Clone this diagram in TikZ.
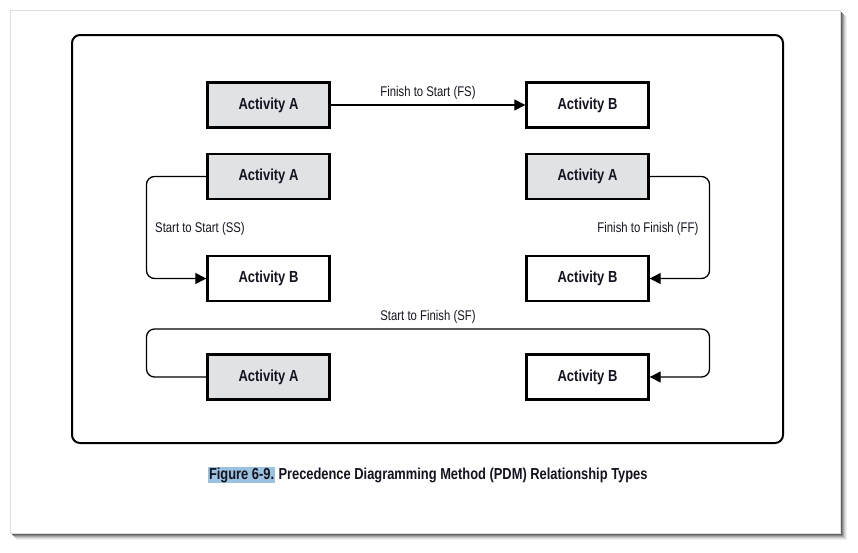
\documentclass[tikz,border=0pt]{standalone}
\usepackage{fontspec}
\setmainfont{Liberation Sans}[FakeStretch=0.81]
\usetikzlibrary{arrows.meta}
\definecolor{boxgray}{HTML}{E1E2E4}
\definecolor{hl}{HTML}{9CC2DF}
\definecolor{txt}{HTML}{141420}
\tikzset{
  act/.style={draw=black, line width=2.4pt, minimum width=122pt, minimum height=45pt,
    inner sep=0pt, font=\fontsize{16}{18}\selectfont\bfseries, text=txt},
  actA/.style={act, fill=boxgray},
  actB/.style={act, fill=white},
  conn/.style={draw=black, line width=1.3pt, rounded corners=8pt},
  tip/.style={-{Triangle[length=11pt,width=11pt]}},
  lbl/.style={font=\fontsize{14}{16}\selectfont, text=txt, inner sep=0pt}
}
\begin{document}
\begin{tikzpicture}[x=1pt,y=-1pt]
\useasboundingbox (0,0) rectangle (858,552);
\fill[white] (0,0) rectangle (858,552);
% page shadow
\foreach \i/\c in {7/6,6/12,5/22,4/34,3/48,2/62,1/72}{
  \fill[black!\c] (10+\i,10+\i) rectangle (840+\i,533+\i);
}
\draw[black!12, line width=0.8pt, fill=white] (10,10) rectangle (840,533);
% frame
\draw[line width=2pt, rounded corners=8pt] (72,35) rectangle (783,443);
% nodes
\node[actA] (a1) at (268.5,105) {Activity A};
\node[actB] (b1) at (587.5,105) {Activity B};
\node[actA] (a2) at (268.5,176.5) {Activity A};
\node[actB] (b2) at (268.5,278.5) {Activity B};
\node[actA] (a3) at (587.5,176.5) {Activity A};
\node[actB] (b3) at (587.5,278.5) {Activity B};
\node[actA] (a4) at (268.5,377) {Activity A};
\node[actB] (b4) at (587.5,377) {Activity B};
% FS
\draw[conn, tip] (a1.east) -- (b1.west);
\node[lbl] (lfs) at (428,93) {Finish to Start (FS)};
% SS
\coordinate (ss1) at (146.5,176.5);
\coordinate (ss2) at (146.5,278.5);
\draw[conn, tip] (a2.west) -- (ss1) -- (ss2) -- (b2.west);
\node[lbl, anchor=west] (lss) at (155,228.5) {Start to Start (SS)};
% FF
\coordinate (ff1) at (709.5,176.5);
\coordinate (ff2) at (709.5,278.5);
\draw[conn, tip] (a3.east) -- (ff1) -- (ff2) -- (b3.east);
\node[lbl, anchor=east] (lff) at (698.5,228.5) {Finish to Finish (FF)};
% SF
\coordinate (sf1) at (146.5,377);
\coordinate (sf2) at (146.5,329);
\coordinate (sf3) at (709.5,329);
\coordinate (sf4) at (709.5,377);
\draw[conn, tip] (a4.west) -- (sf1) -- (sf2) -- (sf3) -- (sf4) -- (b4.east);
\node[lbl] (lsf) at (428,316.5) {Start to Finish (SF)};
% caption
\node[anchor=west, inner sep=0pt, font=\fontsize{15.9}{18}\selectfont\bfseries, text=txt] (cap) at (208,475)
  {\setlength{\fboxsep}{0.8pt}\colorbox{hl}{Figure 6-9.} Precedence Diagramming Method (PDM) Relationship Types};
\end{tikzpicture}
\end{document}
